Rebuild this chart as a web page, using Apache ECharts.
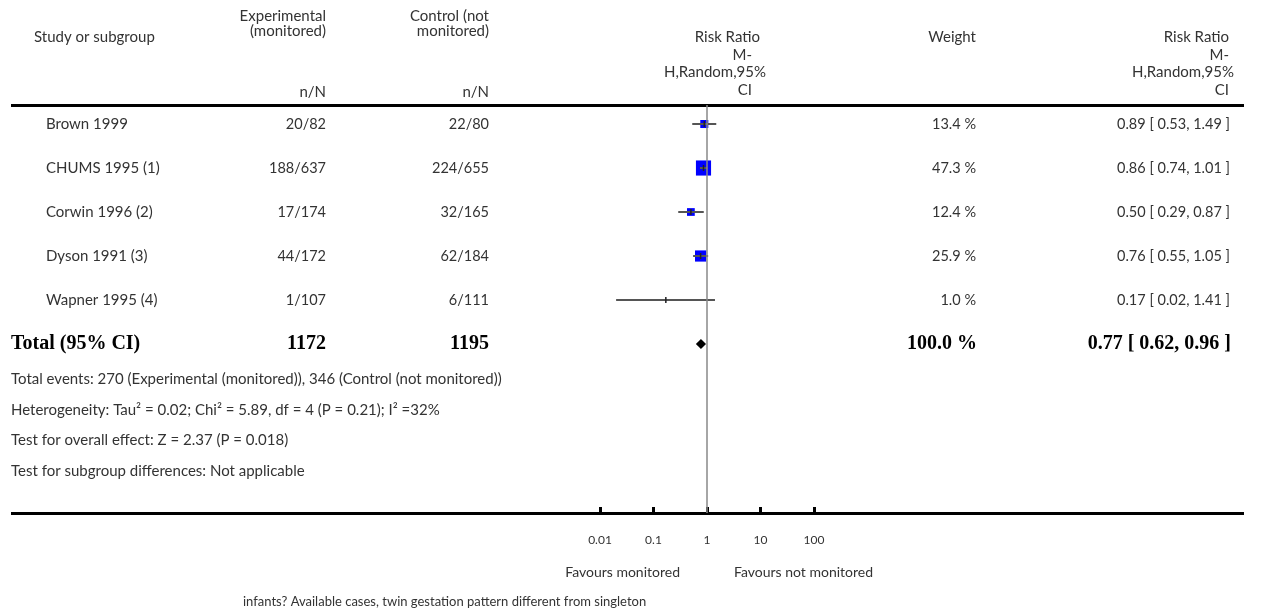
<!DOCTYPE html>
<html><head><meta charset="utf-8">
<script src="https://cdn.jsdelivr.net/npm/echarts@6/dist/echarts.min.js"></script>
<style>html,body{margin:0;padding:0;background:#fff}#c{width:1272px;height:611px}</style>
</head><body><div id="c"></div>
<script>
// ---- data ----
const studies = ['Brown 1999','CHUMS 1995 (1)','Corwin 1996 (2)','Dyson 1991 (3)','Wapner 1995 (4)'];
const expNN = ['20/82','188/637','17/174','44/172','1/107'];
const ctrlNN = ['22/80','224/655','32/165','62/184','6/111'];
const rr = [0.89, 0.86, 0.50, 0.76, 0.17];
const ciLow = [0.53, 0.74, 0.29, 0.55, 0.02];
const ciHigh = [1.49, 1.01, 0.87, 1.05, 1.41];
const weights = [13.4, 47.3, 12.4, 25.9, 1.0];
const totalLabel = 'Total (95% CI)';
const totalExp = 1172, totalCtrl = 1195, totalWeight = 100.0;
const totalRR = 0.77, totalLow = 0.62, totalHigh = 0.96;
const xTicks = [0.01, 0.1, 1, 10, 100];
const footerLines = [
  'Total events: 270 (Experimental (monitored)), 346 (Control (not monitored))',
  'Heterogeneity: Tau\u00b2 = 0.02; Chi\u00b2 = 5.89, df = 4 (P = 0.21); I\u00b2 =32%',
  'Test for overall effect: Z = 2.37 (P = 0.018)',
  'Test for subgroup differences: Not applicable'
];
const favLeft = 'Favours monitored', favRight = 'Favours not monitored';
const footnote = 'infants? Available cases, twin gestation pattern different from singleton';

// ---- layout/style ----
const FONT = 'Lato';
const TXT = '#333';
const F = 15;
const fmt2 = v => v.toFixed(2);
const ciText = (r,l,h) => fmt2(r) + ' [ ' + fmt2(l) + ', ' + fmt2(h) + ' ]';
const TOTAL_ROW = studies.length;

const chart = echarts.init(document.getElementById('c'), null, {renderer:'canvas'});

function txt(x, y, s, align, size) {
  return {type:'text', x:x, y:y, style:{text:s, fill:TXT, font:(size||F) + 'px ' + FONT, align:align||'left', verticalAlign:'middle'}};
}

const graphics = [
  {type:'rect', shape:{x:11, y:104, width:1233, height:3}, style:{fill:'#000'}},
  {type:'rect', shape:{x:11, y:512, width:1233, height:3}, style:{fill:'#000'}},
  txt(34, 37, 'Study or subgroup'),
  txt(326, 16, 'Experimental', 'right'), txt(326, 31, '(monitored)', 'right'), txt(326, 92, 'n/N', 'right'),
  txt(489, 16, 'Control (not', 'right'), txt(489, 31, 'monitored)', 'right'), txt(489, 92, 'n/N', 'right'),
  txt(760, 37, 'Risk Ratio', 'right'), txt(752, 55, 'M-', 'right'), txt(766, 72, 'H,Random,95%', 'right'), txt(752, 90, 'CI', 'right'),
  txt(976, 37, 'Weight', 'right'),
  txt(1229, 37, 'Risk Ratio', 'right'), txt(1229, 55, 'M-', 'right'), txt(1234, 72, 'H,Random,95%', 'right'), txt(1229, 90, 'CI', 'right'),
  txt(680, 572, favLeft, 'right', 14),
  txt(734, 572, favRight, 'left', 14),
  txt(243, 602, footnote, 'left', 13)
];
footerLines.forEach((s, k) => graphics.push(txt(11, 379 + k * 30.7, s)));

const rowIdx = studies.map((_, i) => i);

const option = {
  animation: false,
  grid: {left: 600, right: 1272 - 814, top: 105, bottom: 611 - 513, containLabel: false},
  xAxis: {
    type: 'log', logBase: 10, min: xTicks[0], max: xTicks[xTicks.length - 1],
    axisLine: {show: false, onZero: false},
    axisTick: {show: true, inside: true, length: 6, lineStyle: {color: '#000', width: 3}},
    axisLabel: {show: true, margin: 21, color: TXT, fontFamily: FONT, fontSize: 12,
      formatter: v => String(+v.toPrecision(3)), showMinLabel: true, showMaxLabel: true},
    splitLine: {show: false}
  },
  yAxis: {type: 'value', inverse: true, min: -0.432, max: 8.841, show: false},
  graphic: graphics,
  series: [
    { // table text per row
      type: 'custom', silent: true, clip: false, z: 1,
      data: rowIdx.map(i => [1, i]),
      renderItem: (params, api) => {
        const i = params.dataIndex;
        const y = api.coord([1, i])[1];
        return {type: 'group', children: [
          txt(46, y, studies[i]),
          txt(326, y, expNN[i], 'right', 14.5),
          txt(489, y, ctrlNN[i], 'right', 14.5),
          txt(976, y, weights[i].toFixed(1) + ' %', 'right', 14.5),
          txt(1230, y, ciText(rr[i], ciLow[i], ciHigh[i]), 'right', 14.5)
        ]};
      }
    },
    { // total row text
      type: 'custom', silent: true, clip: false, z: 1,
      data: [[1, TOTAL_ROW]],
      renderItem: (params, api) => {
        const y = api.coord([1, TOTAL_ROW])[1];
        const b = (s, al) => ({text: s, fill: '#000', font: 'bold 20px "Liberation Serif"', verticalAlign: 'middle', align: al});
        return {type: 'group', children: [
          {type: 'text', x: 11, y: y, style: b(totalLabel, 'left')},
          {type: 'text', x: 326, y: y, style: b(String(totalExp), 'right')},
          {type: 'text', x: 489, y: y, style: b(String(totalCtrl), 'right')},
          {type: 'text', x: 977, y: y, style: b(totalWeight.toFixed(1) + ' %', 'right')},
          {type: 'text', x: 1231, y: y, style: b(ciText(totalRR, totalLow, totalHigh), 'right')}
        ]};
      }
    },
    { // weight squares
      type: 'scatter', symbol: 'rect', z: 2,
      data: rowIdx.map(i => ({value: [rr[i], i], symbolSize: Math.sqrt(weights[i]) * 2.2})),
      itemStyle: {color: '#0000ff', opacity: 1},
      markLine: {
        silent: true, symbol: 'none', label: {show: false},
        lineStyle: {color: '#888', width: 1.5, type: 'solid'},
        data: [{xAxis: 1}]
      }
    },
    { // CI lines + estimate ticks
      type: 'custom', z: 3,
      data: rowIdx.map(i => [ciLow[i], ciHigh[i], rr[i], i]),
      renderItem: (params, api) => {
        const y = api.value(3);
        const a = api.coord([api.value(0), y]);
        const b = api.coord([api.value(1), y]);
        const c = api.coord([api.value(2), y]);
        return {type: 'group', children: [
          {type: 'line', shape: {x1: a[0], y1: a[1], x2: b[0], y2: b[1]}, style: {stroke: '#555', lineWidth: 2}},
          {type: 'line', shape: {x1: c[0], y1: c[1] - 3, x2: c[0], y2: c[1] + 3}, style: {stroke: '#222', lineWidth: 1.5}}
        ]};
      }
    },
    { // total diamond
      type: 'custom', z: 3,
      data: [[totalLow, totalHigh, totalRR, TOTAL_ROW]],
      renderItem: (params, api) => {
        const y = api.value(3);
        const l = api.coord([api.value(0), y]);
        const h = api.coord([api.value(1), y]);
        const m = api.coord([api.value(2), y]);
        return {type: 'polygon', shape: {points: [[l[0], l[1]], [m[0], m[1] - 5], [h[0], h[1]], [m[0], m[1] + 5]]}, style: {fill: '#000'}};
      }
    }
  ]
};
chart.setOption(option);
</script>
</body></html>
